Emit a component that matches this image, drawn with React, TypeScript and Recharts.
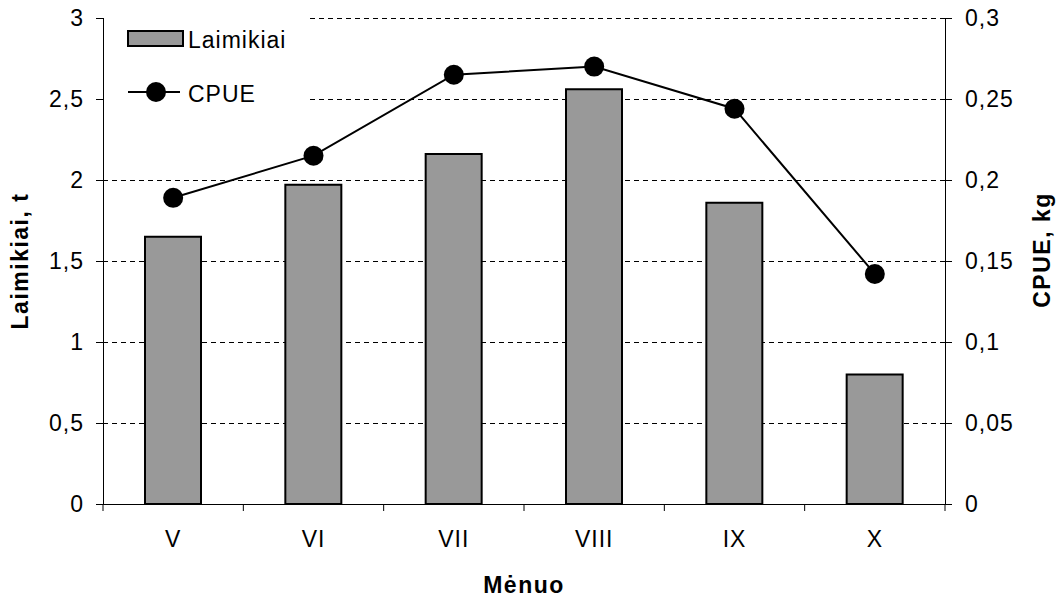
import React from "react";
import {
  Bar,
  CartesianGrid,
  ComposedChart,
  Label,
  Legend,
  Line,
  XAxis,
  YAxis,
} from "recharts";

const months = ["V", "VI", "VII", "VIII", "IX", "X"];
const catchTonnes = [1.65, 1.97, 2.16, 2.56, 1.86, 0.8];
const cpueKg = [0.189, 0.215, 0.265, 0.27, 0.244, 0.142];

const leftTicks = [0, 0.5, 1, 1.5, 2, 2.5, 3];
const rightTicks = [0, 0.05, 0.1, 0.15, 0.2, 0.25, 0.3];

const data = months.map((month, i) => ({
  month,
  laimikiai: catchTonnes[i],
  cpue: cpueKg[i],
}));

const FONT = "'Liberation Sans', Arial, sans-serif";
const FS = 23;
const X_TICK_SIZE = 7;
const X_TICK_MARGIN = 20;

const comma = (v: number) => String(v).replace(".", ",");

function MonthTick(props: any) {
  const { x, y, payload, index, visibleTicksCount } = props;
  const half = payload?.offset ?? 70;
  const axisY = y - X_TICK_SIZE - X_TICK_MARGIN;
  return (
    <g>
      <line x1={x - half} x2={x - half} y1={axisY} y2={axisY + X_TICK_SIZE} stroke="#000" />
      {index === visibleTicksCount - 1 && (
        <line x1={x + half} x2={x + half} y1={axisY} y2={axisY + X_TICK_SIZE} stroke="#000" />
      )}
      <text x={x} y={y} dy="0.71em" textAnchor="middle" fill="#000" fontSize={FS} fontFamily={FONT}>
        {payload.value}
      </text>
    </g>
  );
}

function ChartLegend() {
  return (
    <svg width={204} height={104} style={{ display: "block", background: "#fff" }}>
      <rect x={24} y={23} width={55} height={15} fill="#999999" stroke="#000" strokeWidth={2} />
      <text x={84} y={32} dy="0.355em" fontSize={FS} fontFamily={FONT} fill="#000">
        Laimikiai
      </text>
      <line x1={24} x2={76} y1={84} y2={84} stroke="#000" strokeWidth={2} />
      <circle cx={52} cy={84} r={10} fill="#000" />
      <text x={84} y={86} dy="0.355em" fontSize={FS} fontFamily={FONT} fill="#000">
        CPUE
      </text>
    </svg>
  );
}

function AxisTitle({ x, y, angle, text }: { x: number; y: number; angle: number; text: string }) {
  return (
    <text
      x={x}
      y={y}
      dy={angle ? "0.355em" : 0}
      textAnchor="middle"
      transform={angle ? `rotate(${angle} ${x} ${y})` : undefined}
      fontSize={FS}
      fontWeight="bold"
      fontFamily={FONT}
      letterSpacing="1.5px"
      fill="#000"
    >
      {text}
    </text>
  );
}

export default function App() {
  const tickStyle = { fill: "#000", fontSize: FS, fontFamily: FONT };
  return (
    <div style={{ position: "absolute", left: 0, top: 0, fontFamily: FONT, letterSpacing: "1px", background: "#fff" }}>
      <style>{`
        .recharts-cartesian-grid line,
        .recharts-cartesian-axis-line,
        .recharts-cartesian-axis-tick-line,
        .recharts-cartesian-axis-tick line { shape-rendering: crispEdges; }
      `}</style>
      <ComposedChart width={1058} height={597} data={data} margin={{ top: 18, right: 0, bottom: 0, left: 0 }}>
        <CartesianGrid yAxisId="left" vertical={false} stroke="#000" strokeDasharray="5 4" />
        <XAxis
          dataKey="month"
          height={93}
          axisLine={{ stroke: "#000" }}
          tickLine={false}
          tickSize={X_TICK_SIZE}
          tickMargin={X_TICK_MARGIN}
          tick={<MonthTick />}
          interval={0}
        >
          <Label
            content={({ viewBox }: any) => (
              <AxisTitle x={viewBox.x + viewBox.width / 2} y={viewBox.y + viewBox.height - 4} angle={0} text="Mėnuo" />
            )}
          />
        </XAxis>
        <YAxis
          yAxisId="left"
          width={103}
          domain={[0, 3]}
          ticks={leftTicks}
          tickFormatter={comma}
          tick={tickStyle}
          tickSize={7}
          tickMargin={12}
          axisLine={{ stroke: "#000" }}
          tickLine={{ stroke: "#000" }}
          interval={0}
        >
          <Label
            content={({ viewBox }: any) => (
              <AxisTitle x={viewBox.x + 20} y={viewBox.y + viewBox.height / 2} angle={-90} text="Laimikiai, t" />
            )}
          />
        </YAxis>
        <YAxis
          yAxisId="right"
          orientation="right"
          width={113}
          domain={[0, 0.3]}
          ticks={rightTicks}
          tickFormatter={comma}
          tick={tickStyle}
          tickSize={7}
          tickMargin={13}
          axisLine={{ stroke: "#000" }}
          tickLine={{ stroke: "#000" }}
          interval={0}
        >
          <Label
            content={({ viewBox }: any) => (
              <AxisTitle x={viewBox.x + 97} y={viewBox.y + viewBox.height / 2 - 11} angle={-90} text="CPUE, kg" />
            )}
          />
        </YAxis>
        <Legend
          layout="vertical"
          align="center"
          verticalAlign="middle"
          wrapperStyle={{ left: 104, top: 8, width: 204, height: 104 }}
          content={() => <ChartLegend />}
        />
        <Bar
          yAxisId="left"
          dataKey="laimikiai"
          barSize={56}
          fill="#999999"
          stroke="#000"
          strokeWidth={2}
          isAnimationActive={false}
        />
        <Line
          yAxisId="right"
          dataKey="cpue"
          type="linear"
          stroke="#000"
          strokeWidth={2}
          dot={{ r: 10, fill: "#000", stroke: "#000", strokeWidth: 0 }}
          activeDot={false}
          isAnimationActive={false}
        />
      </ComposedChart>
    </div>
  );
}
